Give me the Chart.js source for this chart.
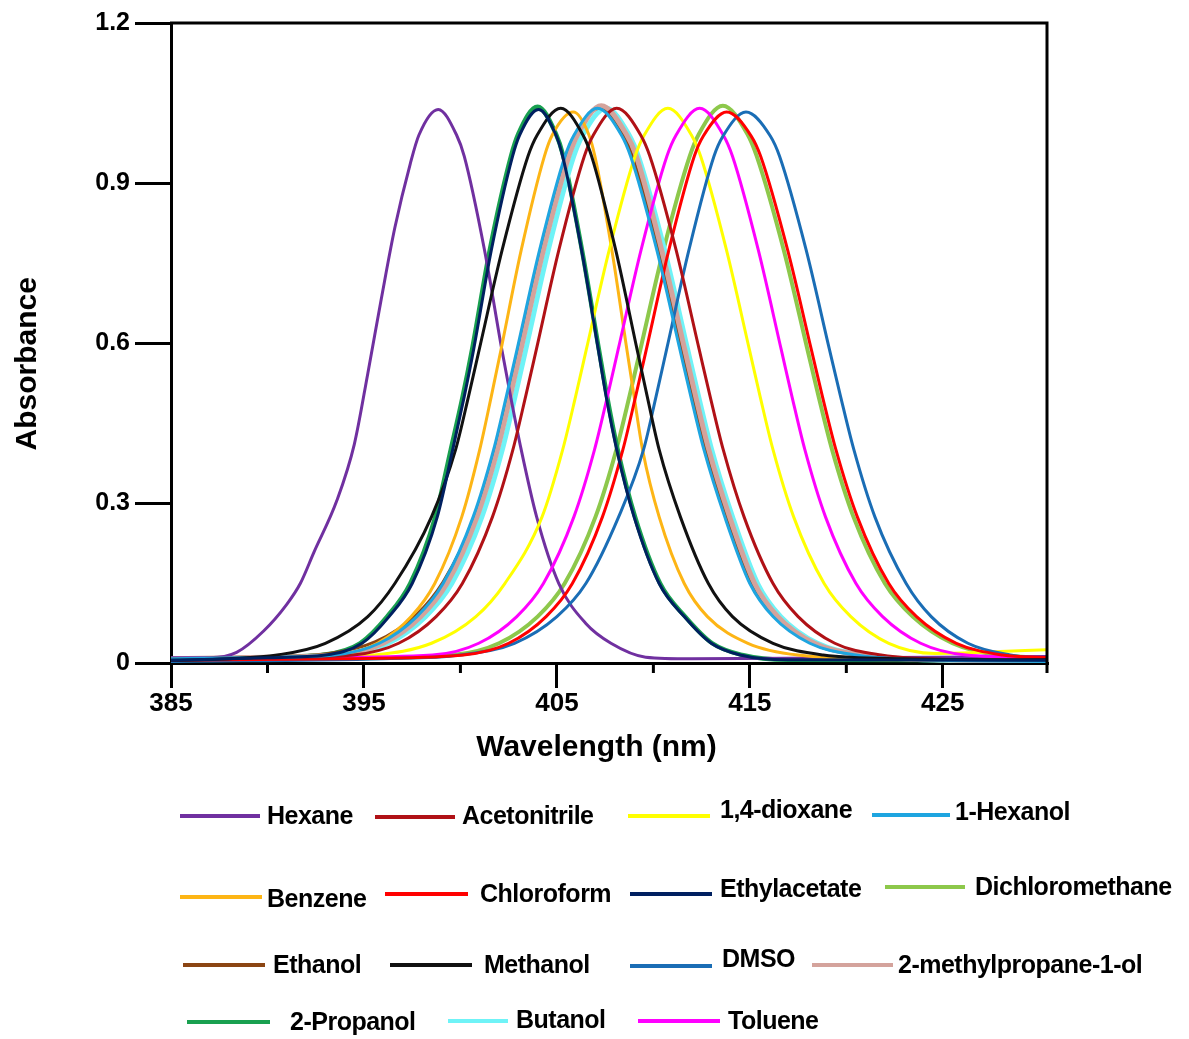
<!DOCTYPE html>
<html>
<head>
<meta charset="utf-8">
<script src="https://cdn.jsdelivr.net/npm/chart.js@4.4.1/dist/chart.umd.min.js"></script>
<style>
    body { margin: 0; background: #fff; }
    #wrap { position: relative; width: 1189px; height: 1039px; overflow: hidden; }
    #chart { position: absolute; left: 0; top: 0; }
    .lg_line { position: absolute; height: 4px; }
    .lg_text {
        position: absolute;
        font: bold 25px "Liberation Sans", Arial, sans-serif;
        color: #000;
        transform: translateY(-50%);
        white-space: nowrap;
        letter-spacing: -0.5px;
    }
</style>
</head>
<body>
<div id="wrap">
    <canvas id="chart" width="1189" height="1039"></canvas>
</div>
<script>
// --- Data ---
const xMajorTicks = [385, 395, 405, 415, 425];
const xMinorTicks = [390, 400, 410, 420];
const yTicks = [0, 0.3, 0.6, 0.9, 1.2];
const yTickLabels = ['0', '0.3', '0.6', '0.9', '1.2'];

const hexaneWl = [385, 387.0, 388.4, 389.8, 391.0, 391.7, 392.4, 393.6, 394.5, 395.2, 395.9, 396.6, 397.4, 397.85, 398.85, 399.8, 400.2, 401.25, 402.15, 402.6, 403.15, 403.95, 405.1, 406.5, 407.8, 409.6, 412, 420, 430.4];
const hexaneAbs = [0.010, 0.010, 0.020, 0.060, 0.110, 0.149, 0.207, 0.305, 0.410, 0.543, 0.683, 0.816, 0.936, 0.990, 1.038, 0.990, 0.950, 0.774, 0.587, 0.500, 0.400, 0.274, 0.149, 0.074, 0.037, 0.011, 0.008, 0.010, 0.012];

const acetoWl = [385, 390, 394.45, 396.8, 398.74, 400.1, 401.66, 402.72, 403.38, 403.93, 405.1, 406.42, 406.89, 408.1, 409.34, 409.82, 411.18, 412.38, 412.94, 413.62, 414.7, 416.2, 417.5, 419.4, 421.8, 426, 430.4];
const acetoAbs = [0.008, 0.010, 0.015, 0.037, 0.087, 0.149, 0.274, 0.400, 0.500, 0.587, 0.774, 0.950, 0.990, 1.040, 0.990, 0.950, 0.774, 0.587, 0.500, 0.400, 0.274, 0.149, 0.087, 0.037, 0.015, 0.006, 0.005];

const dioxaneWl = [385, 390, 395.5, 398.5, 400.8, 402.3, 404.23, 405.3, 405.97, 406.52, 407.71, 409.05, 409.53, 410.75, 411.97, 412.45, 413.79, 414.98, 415.53, 416.2, 417.27, 418.85, 420.23, 422.2, 424.6, 427, 430.4];
const dioxaneAbs = [0.008, 0.008, 0.015, 0.037, 0.087, 0.149, 0.274, 0.400, 0.500, 0.587, 0.774, 0.950, 0.990, 1.040, 0.990, 0.950, 0.774, 0.587, 0.500, 0.400, 0.274, 0.149, 0.087, 0.037, 0.018, 0.020, 0.025];

const hexanolWl = [385, 390, 393.45, 395.8, 397.74, 399.1, 400.66, 401.72, 402.38, 402.93, 404.1, 405.42, 405.89, 407.1, 408.34, 408.82, 410.18, 411.38, 411.94, 412.62, 413.7, 415.0, 416.2, 418.1, 420.5, 425, 430.4];
const hexanolAbs = [0.008, 0.011, 0.015, 0.037, 0.087, 0.149, 0.274, 0.400, 0.500, 0.587, 0.774, 0.950, 0.990, 1.040, 0.990, 0.950, 0.774, 0.587, 0.500, 0.400, 0.274, 0.149, 0.087, 0.037, 0.015, 0.005, 0.003];

const benzeneWl = [385, 390, 393.6, 395.7, 397.45, 398.67, 400.07, 401.0, 401.6, 402.1, 403.15, 404.35, 404.76, 405.85, 406.66, 406.97, 407.85, 408.63, 409.0, 409.44, 410.3, 411.6, 412.8, 414.9, 417.5, 424, 430.4];
const benzeneAbs = [0.008, 0.010, 0.015, 0.037, 0.087, 0.149, 0.274, 0.400, 0.500, 0.587, 0.774, 0.950, 0.990, 1.033, 0.990, 0.950, 0.774, 0.587, 0.500, 0.400, 0.274, 0.149, 0.087, 0.037, 0.015, 0.006, 0.006];

const chloroWl = [385, 394, 400.15, 402.5, 404.44, 405.8, 407.36, 408.42, 409.08, 409.63, 410.8, 412.12, 412.59, 413.8, 415.07, 415.56, 416.96, 418.19, 418.76, 419.46, 420.57, 422.2, 423.64, 425.7, 428.1, 430.4];
const chloroAbs = [0.005, 0.008, 0.015, 0.037, 0.087, 0.149, 0.274, 0.400, 0.500, 0.587, 0.774, 0.950, 0.988, 1.033, 0.988, 0.950, 0.774, 0.587, 0.500, 0.400, 0.274, 0.149, 0.087, 0.037, 0.015, 0.010];

const ethylWl = [385, 390, 393, 394.9, 396.3, 397.5, 398.8, 399.6, 400.2, 400.68, 401.6, 402.7, 403.07, 404.05, 404.95, 405.3, 406.28, 407.15, 407.55, 408.1, 409.0, 410.3, 411.6, 413.0, 414.5, 417, 430.4];
const ethylAbs = [0.005, 0.010, 0.015, 0.037, 0.087, 0.149, 0.274, 0.400, 0.500, 0.587, 0.774, 0.950, 0.990, 1.038, 0.990, 0.950, 0.774, 0.587, 0.500, 0.400, 0.274, 0.149, 0.087, 0.037, 0.015, 0.006, 0.005];

const dcmWl = [385, 393, 399.6, 402.0, 404.0, 405.4, 407.0, 408.08, 408.76, 409.32, 410.52, 411.88, 412.36, 413.6, 414.87, 415.36, 416.76, 417.99, 418.56, 419.26, 420.37, 422.0, 423.44, 425.5, 427.9, 430.4];
const dcmAbs = [0.005, 0.008, 0.015, 0.037, 0.087, 0.149, 0.274, 0.400, 0.500, 0.587, 0.774, 0.950, 0.992, 1.045, 0.992, 0.950, 0.774, 0.587, 0.500, 0.400, 0.274, 0.149, 0.087, 0.037, 0.015, 0.010];

const ethanolWl = [385, 390, 393.2, 395.6, 397.7, 399.1, 400.76, 401.82, 402.48, 403.03, 404.2, 405.52, 405.99, 407.2, 408.44, 408.92, 410.28, 411.48, 412.04, 412.72, 413.8, 415.1, 416.3, 418.2, 420.6, 425, 430.4];
const ethanolAbs = [0.008, 0.012, 0.018, 0.040, 0.090, 0.152, 0.274, 0.400, 0.500, 0.587, 0.774, 0.950, 0.990, 1.040, 0.990, 0.950, 0.774, 0.587, 0.500, 0.400, 0.274, 0.149, 0.087, 0.037, 0.015, 0.005, 0.004];

const methanolWl = [385, 388, 390.5, 393.0, 395.2, 396.6, 398.5, 399.75, 400.42, 400.97, 402.16, 403.5, 403.98, 405.2, 406.35, 406.8, 408.05, 409.16, 409.68, 410.3, 411.4, 412.85, 414.1, 416.2, 418.8, 423, 430.4];
const methanolAbs = [0.005, 0.008, 0.015, 0.037, 0.087, 0.149, 0.274, 0.400, 0.500, 0.587, 0.774, 0.950, 0.990, 1.040, 0.990, 0.950, 0.774, 0.587, 0.500, 0.400, 0.274, 0.149, 0.087, 0.037, 0.015, 0.008, 0.006];

const dmsoWl = [385, 396, 400.0, 402.8, 405.0, 406.5, 408.2, 409.49, 410.14, 410.68, 411.84, 413.14, 413.61, 414.8, 416.06, 416.54, 417.92, 419.13, 419.7, 420.39, 421.48, 423.1, 424.4, 426.3, 428.5, 430.4];
const dmsoAbs = [0.003, 0.008, 0.015, 0.037, 0.087, 0.149, 0.274, 0.400, 0.500, 0.587, 0.774, 0.950, 0.988, 1.033, 0.988, 0.950, 0.774, 0.587, 0.500, 0.400, 0.274, 0.149, 0.087, 0.037, 0.015, 0.008];

const methylpropWl = [385, 390, 393.65, 396.0, 397.94, 399.3, 400.86, 401.92, 402.58, 403.13, 404.3, 405.62, 406.09, 407.3, 408.59, 409.07, 410.43, 411.63, 412.19, 412.87, 413.95, 415.25, 416.45, 418.35, 420.75, 425, 430.4];
const methylpropAbs = [0.008, 0.011, 0.015, 0.037, 0.087, 0.149, 0.274, 0.400, 0.500, 0.587, 0.774, 0.950, 0.992, 1.045, 0.992, 0.955, 0.774, 0.587, 0.500, 0.400, 0.274, 0.149, 0.087, 0.037, 0.015, 0.006, 0.004];

const propanolWl = [385, 390, 393, 394.8, 396.2, 397.4, 398.7, 399.5, 400.12, 400.6, 401.52, 402.62, 403.0, 404.0, 404.95, 405.32, 406.3, 407.18, 407.6, 408.15, 409.05, 410.35, 411.65, 413.05, 414.6, 417, 430.4];
const propanolAbs = [0.006, 0.011, 0.016, 0.037, 0.087, 0.149, 0.274, 0.400, 0.500, 0.587, 0.774, 0.950, 0.992, 1.043, 0.992, 0.952, 0.774, 0.587, 0.500, 0.400, 0.274, 0.149, 0.087, 0.037, 0.015, 0.006, 0.005];

const butanolWl = [385, 390, 393.9, 396.25, 398.19, 399.55, 401.11, 402.17, 402.83, 403.38, 404.55, 405.87, 406.34, 407.55, 408.74, 409.22, 410.58, 411.78, 412.34, 413.02, 414.1, 415.4, 416.6, 418.5, 420.9, 425, 430.4];
const butanolAbs = [0.006, 0.009, 0.015, 0.037, 0.087, 0.149, 0.274, 0.400, 0.500, 0.587, 0.774, 0.950, 0.990, 1.040, 0.990, 0.950, 0.774, 0.587, 0.500, 0.400, 0.274, 0.149, 0.087, 0.037, 0.015, 0.005, 0.003];

const tolueneWl = [385, 392, 398.55, 400.95, 402.92, 404.3, 405.88, 406.95, 407.62, 408.17, 409.36, 410.7, 411.18, 412.4, 413.62, 414.1, 415.44, 416.63, 417.18, 417.85, 418.92, 420.5, 421.88, 423.85, 426.2, 430.4];
const tolueneAbs = [0.006, 0.010, 0.015, 0.037, 0.087, 0.149, 0.274, 0.400, 0.500, 0.587, 0.774, 0.950, 0.990, 1.040, 0.990, 0.950, 0.774, 0.587, 0.500, 0.400, 0.274, 0.149, 0.087, 0.037, 0.015, 0.010];

// solvent name, wavelengths, absorbance, colour (legend order)
const solvents = [
    ['Hexane', hexaneWl, hexaneAbs, '#7030A0'],
    ['Acetonitrile', acetoWl, acetoAbs, '#B01116'],
    ['1,4-dioxane', dioxaneWl, dioxaneAbs, '#FFFF00'],
    ['1-Hexanol', hexanolWl, hexanolAbs, '#1EA5E0'],
    ['Benzene', benzeneWl, benzeneAbs, '#FDB515'],
    ['Chloroform', chloroWl, chloroAbs, '#FF0000'],
    ['Ethylacetate', ethylWl, ethylAbs, '#002060'],
    ['Dichloromethane', dcmWl, dcmAbs, '#8DC84B'],
    ['Ethanol', ethanolWl, ethanolAbs, '#8B4513'],
    ['Methanol', methanolWl, methanolAbs, '#111111'],
    ['DMSO', dmsoWl, dmsoAbs, '#1A6DB5'],
    ['2-methylpropane-1-ol', methylpropWl, methylpropAbs, '#D4A39C'],
    ['2-Propanol', propanolWl, propanolAbs, '#19A050'],
    ['Butanol', butanolWl, butanolAbs, '#6FF3F7'],
    ['Toluene', tolueneWl, tolueneAbs, '#FF00FF']
];

// --- Styling / layout (not data) ---
// names listed top-most first
const drawOrder = ['Ethylacetate', 'Methanol', '1-Hexanol', 'Acetonitrile', 'Chloroform', 'DMSO', 'Toluene',
    '1,4-dioxane', 'Benzene', 'Hexane', '2-methylpropane-1-ol', 'Ethanol', 'Butanol', '2-Propanol', 'Dichloromethane'];
const lineWidths = { '2-methylpropane-1-ol': 5, 'Butanol': 5, '2-Propanol': 4.5, 'Dichloromethane': 4 };

// [lineLeft, lineY, lineWidth, textLeft, textY] for every legend entry, same order as solvents
const legendSlots = [
    [180, 816, 80, 267, 815], [375, 817, 80, 462, 815], [628, 816, 82, 720, 809], [872, 815, 78, 955, 811],
    [180, 897, 82, 267, 898], [385, 894, 83, 480, 893], [630, 894, 82, 720, 888], [885, 887, 80, 975, 886],
    [183, 965, 82, 273, 964], [390, 965, 82, 484, 964], [630, 966, 82, 722, 958], [812, 965, 81, 898, 964],
    [187, 1022, 83, 290, 1021], [448, 1021, 60, 516, 1019], [638, 1021, 82, 728, 1020]
];

const FONT = '"Liberation Sans", Arial, sans-serif';

const datasets = solvents.map(([name, wl, abs, color]) => ({
    label: name,
    data: wl.map((x, i) => ({ x, y: abs[i] })),
    borderColor: color,
    borderWidth: lineWidths[name] || 3,
    order: drawOrder.indexOf(name),
    pointRadius: 0,
    fill: false,
    cubicInterpolationMode: 'monotone'
}));

// top + right frame lines and the short minor ticks on the x axis
const framePlugin = {
    id: 'frame',
    afterDraw(chart) {
        const { ctx, chartArea: a, scales: { x } } = chart;
        ctx.save();
        ctx.strokeStyle = '#000';
        ctx.lineWidth = 3;
        ctx.beginPath();
        ctx.moveTo(a.left - 1, a.top);
        ctx.lineTo(a.right, a.top);
        ctx.lineTo(a.right, a.bottom + 10);
        ctx.stroke();
        xMinorTicks.forEach(v => {
            const px = x.getPixelForValue(v);
            ctx.beginPath();
            ctx.moveTo(px, a.bottom);
            ctx.lineTo(px, a.bottom + 10);
            ctx.stroke();
        });
        ctx.restore();
    }
};

const ctx = document.getElementById('chart').getContext('2d');
const chart = new Chart(ctx, {
    type: 'line',
    data: { datasets },
    options: {
        responsive: false,
        animation: false,
        layout: { padding: { left: 0, top: 23, right: 142, bottom: 266 } },
        plugins: { legend: { display: false }, tooltip: { enabled: false } },
        scales: {
            x: {
                type: 'linear',
                min: 385,
                max: 430.4,
                afterBuildTicks: s => { s.ticks = xMajorTicks.map(v => ({ value: v })); },
                afterFit: s => { s.height = 110; },
                border: { color: '#000', width: 3 },
                grid: { drawOnChartArea: false, tickLength: 25, color: '#000', lineWidth: 3 },
                ticks: {
                    color: '#000',
                    padding: 0,
                    maxRotation: 0,
                    autoSkip: false,
                    font: { family: FONT, size: 26, weight: 'bold' },
                    callback: v => String(v)
                },
                title: {
                    display: true,
                    text: 'Wavelength (nm)   ',
                    color: '#000',
                    padding: { top: 0, bottom: 7 },
                    font: { family: FONT, size: 30, weight: 'bold' }
                }
            },
            y: {
                min: 0,
                max: 1.2,
                afterBuildTicks: s => { s.ticks = yTicks.map(v => ({ value: v })); },
                afterFit: s => { s.width = 171; },
                border: { color: '#000', width: 3 },
                grid: { drawOnChartArea: false, tickLength: 36, color: '#000', lineWidth: 3 },
                ticks: {
                    color: '#000',
                    padding: 5,
                    font: { family: FONT, size: 25, weight: 'bold' },
                    callback: (v, i) => yTickLabels[i]
                },
                title: {
                    display: true,
                    text: 'Absorbance     ',
                    color: '#000',
                    padding: { top: 10, bottom: 0 },
                    font: { family: FONT, size: 30, weight: 'bold' }
                }
            }
        }
    },
    plugins: [framePlugin]
});

// --- HTML legend laid out like the original figure ---
const wrap = document.getElementById('wrap');
solvents.forEach(([name, , , color], i) => {
    const [lx, ly, lw, tx, ty] = legendSlots[i];
    const line = document.createElement('div');
    line.className = 'lg_line';
    line.style.left = lx + 'px';
    line.style.top = (ly - 2) + 'px';
    line.style.width = lw + 'px';
    line.style.background = color;
    wrap.appendChild(line);

    const text = document.createElement('div');
    text.className = 'lg_text';
    text.style.left = tx + 'px';
    text.style.top = ty + 'px';
    text.textContent = name;
    wrap.appendChild(text);
});
</script>
</body>
</html>
